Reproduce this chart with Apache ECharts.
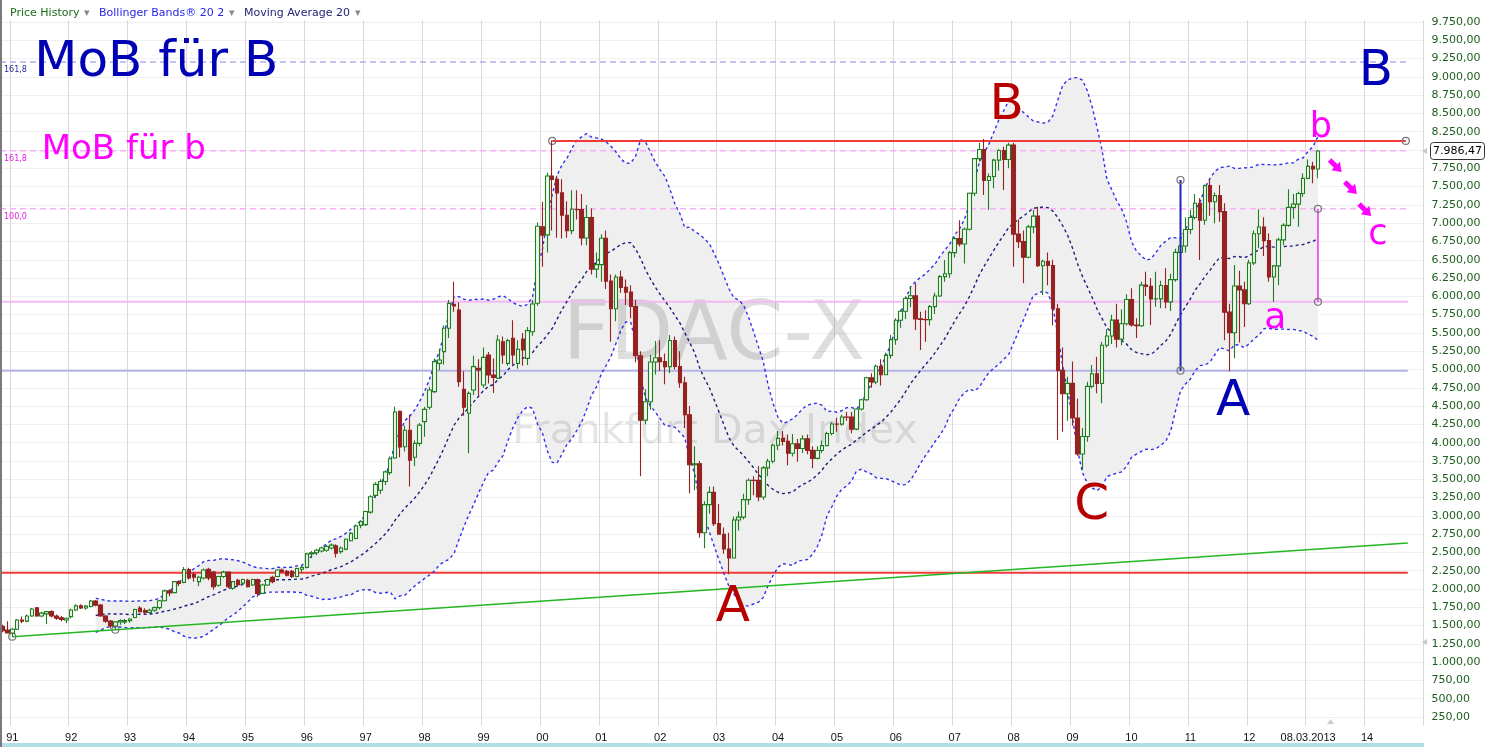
<!DOCTYPE html>
<html><head><meta charset="utf-8">
<script src="https://cdn.jsdelivr.net/npm/echarts@6/dist/echarts.min.js"></script>
<style>html,body{margin:0;padding:0;background:#fff;}#c{width:1491px;height:747px;}</style>
</head><body><div id="c"></div>
<script>
// ---------- DATA ----------
const firstYear = 1990, firstMonth = 11, monthCount = 290;
const open = [1490,1440,1398,1449,1576,1560,1630,1744,1630,1660,1690,1630,1607,1575,1622,1712,1769,1740,1760,1835,1780,1630,1560,1494,1550,1550,1568,1610,1740,1705,1680,1710,1745,1840,1974,1950,2100,2090,2267,2200,2100,2150,2270,2230,2050,2170,2230,2010,2120,2080,2120,2055,2130,1940,2055,2160,2170,2260,2240,2240,2170,2270,2295,2480,2495,2520,2530,2560,2590,2510,2545,2660,2690,2870,2880,3050,3280,3350,3470,3590,3790,4430,3945,4170,3800,3990,4287,4483,4697,5084,5244,5563,5890,5813,4729,4401,4720,5016,4788,5198,4925,4880,5380,5084,5426,5084,5417,5152,5517,5905,6952,6840,7644,7599,7414,7109,6898,7190,7185,6798,7077,6372,6434,6795,6208,5830,6265,6123,6058,5861,5188,4308,4560,5103,5160,5108,5039,5397,5041,4818,4382,3700,3712,2769,3153,3320,2893,2748,2547,2424,2942,2982,3221,3487,3484,3257,3656,3746,3965,4058,4018,3856,3985,3921,4052,3895,3785,3893,3960,4126,4256,4254,4350,4349,4185,4461,4587,4887,4830,5044,4929,5193,5408,5674,5796,5970,6009,5692,5683,5682,5860,6004,6269,6309,6597,6789,6716,6917,7409,7883,8007,7584,7638,7862,7993,7871,8067,6851,6748,6535,6949,7097,6418,6479,6422,5831,4988,4669,4810,4338,3844,4085,4770,4941,4809,5332,5458,5675,5415,5625,5957,5608,5598,6153,6136,5964,5966,6148,5925,6229,6601,6688,6914,7077,7272,7041,7514,7293,7376,7158,5784,5502,6141,6088,5898,6458,6856,6947,6761,6264,6416,6772,6970,7216,7260,7405,7612,7776,7741];
const high = [1510,1560,1470,1590,1625,1650,1740,1755,1690,1700,1710,1650,1630,1610,1730,1790,1790,1780,1850,1850,1795,1645,1575,1560,1585,1590,1600,1730,1765,1735,1730,1760,1850,1990,1995,2110,2120,2300,2290,2230,2180,2280,2290,2250,2180,2250,2240,2110,2140,2140,2140,2140,2140,2070,2140,2180,2270,2280,2260,2260,2290,2310,2495,2520,2550,2580,2600,2620,2610,2580,2690,2780,2880,2940,3070,3280,3460,3500,3620,3810,4490,4440,4230,4380,4030,4270,4490,4760,5150,5280,5600,5950,6200,5920,4975,4700,5189,5140,5300,5240,5150,5470,5450,5420,5674,5400,5500,5580,5950,7010,7294,7690,8130,7650,7600,7300,7450,7450,7400,7250,7200,6600,6850,6900,6300,6300,6350,6230,6150,5950,5250,4730,5200,5390,5400,5220,5470,5450,5250,4900,4500,3950,3750,3200,3400,3400,3160,2840,2770,2990,3060,3300,3510,3540,3680,3680,3780,3990,4160,4160,4110,4120,4050,4100,4110,3950,3950,4030,4150,4280,4340,4380,4420,4420,4470,4600,4900,4950,5070,5140,5230,5470,5700,5820,6000,6140,6178,5790,5810,5880,6050,6290,6497,6620,6810,7040,6940,7420,7890,8100,8151,7680,7880,8010,8046,8100,8100,7050,6900,6980,7180,7225,6500,6600,6500,5900,5300,4900,5110,4600,4200,4834,5062,5175,5380,5550,5750,5900,5820,6030,6110,5700,6200,6337,6250,6337,6214,6383,6310,6650,6880,7080,7180,7400,7340,7530,7600,7420,7522,7271,5900,6430,6350,6200,6500,6900,7189,7080,6861,6428,6800,7000,7463,7400,7431,7680,7870,7841,8000];
const low = [1410,1390,1348,1440,1530,1545,1620,1620,1615,1520,1610,1580,1560,1530,1595,1700,1725,1715,1750,1765,1620,1540,1460,1440,1510,1520,1540,1600,1680,1650,1665,1690,1720,1830,1900,1940,2040,2080,2130,2100,2040,2130,2120,1990,2030,2150,2010,1990,2040,2050,2020,2040,1895,1930,2040,2080,2160,2220,2170,2150,2160,2230,2280,2420,2460,2500,2510,2540,2430,2480,2530,2650,2680,2830,2860,3030,3240,3300,3420,3560,3780,3800,3880,3400,3680,3950,4080,4450,4680,4990,5070,5430,5790,4765,4369,3854,4650,4640,4750,4810,4680,4870,5080,5050,5070,5010,5050,5060,5460,5870,6405,6600,6900,6800,6790,6800,6850,7050,6700,6700,6300,6250,6200,6100,5380,5660,6050,5880,5700,5100,3540,4250,4450,4930,4980,4800,4950,5000,4750,4200,3307,3350,2700,2556,3030,2860,2740,2480,2203,2420,2800,2950,3150,3280,3200,3220,3540,3720,3900,3960,3690,3810,3740,3860,3840,3650,3770,3860,3950,4100,4150,4230,4300,4130,4170,4440,4570,4750,4800,4780,4920,5150,5340,5570,5690,5850,5540,5267,5380,5600,5760,5990,6200,6250,6530,6680,6450,6900,7370,7840,7385,7180,7476,7720,7454,7750,6406,6660,6180,6520,6861,6400,6018,6150,5600,4037,4150,4300,4230,3820,3626,4013,4743,4674,4538,5300,5350,5300,5330,5600,5586,5430,5580,6005,5608,5859,5836,5836,5800,6200,6530,6600,6850,7050,6497,6980,7100,7000,7021,5400,4975,5153,5370,5580,5880,6430,6656,6550,6201,5927,6150,6700,6952,7060,6952,7360,7600,7545,7613];
const close = [1430,1398,1449,1576,1560,1630,1726,1630,1670,1690,1630,1600,1585,1600,1712,1769,1740,1765,1835,1780,1630,1560,1494,1550,1570,1568,1590,1720,1690,1680,1710,1745,1840,1974,1945,2100,2075,2267,2150,2160,2160,2260,2150,2030,2170,2230,2030,2100,2060,2130,2030,2130,1940,2055,2130,2100,2260,2240,2190,2170,2280,2295,2480,2495,2530,2560,2580,2600,2490,2560,2680,2760,2860,2920,3060,3260,3430,3470,3600,3780,4420,3940,4170,3760,3990,4240,4455,4720,5107,5130,5563,5904,5868,4834,4483,4674,5039,4993,5166,4925,4890,5403,5198,5394,5198,5276,5266,5531,5895,6958,6835,7644,7599,7414,7109,6898,7190,7185,6798,7077,6372,6434,6795,6208,5830,6265,6123,6058,5861,5188,4308,4560,5103,5160,5108,5039,5397,5041,4818,4382,3700,3712,2769,3153,3320,2893,2748,2547,2424,2942,2982,3221,3487,3484,3257,3656,3746,3965,4058,4018,3856,3985,3921,4052,3895,3785,3893,3960,4126,4256,4254,4350,4349,4185,4461,4587,4887,4830,5044,4929,5193,5408,5674,5796,5970,6009,5692,5683,5682,5860,6004,6269,6309,6597,6789,6716,6917,7409,7883,8007,7584,7638,7862,7993,7871,8067,6851,6748,6535,6949,7097,6418,6479,6422,5831,4988,4669,4810,4338,3844,4085,4770,4941,4809,5332,5458,5675,5415,5625,5957,5608,5598,6153,6136,5964,5966,6148,5925,6229,6601,6688,6914,7077,7272,7041,7514,7293,7376,7158,5784,5502,6141,6088,5898,6458,6856,6947,6761,6264,6416,6772,6970,7216,7260,7405,7612,7776,7741,7986.47];
const xTickYears  = [1991,1992,1993,1994,1995,1996,1997,1998,1999,2000,2001,2002,2003,2004,2005,2006,2007,2008,2009,2010,2011,2012,2013,2014];
const xTickLabels = ['91','92','93','94','95','96','97','98','99','00','01','02','03','04','05','06','07','08','09','10','11','12','08.03.2013','14'];
const bbPeriod = 20, bbDev = 2;
// drawn lines, points in (month index, value)
const greenTrend = [[2,1348],[23,1443],[286.3,2629]];
const redTop     = [[112,8125],[285.9,8125]];
const redBottom  = [[-0.5,2223],[286.3,2223]];
const blueLevel  = [[-0.5,4984],[286.3,4984]];
const pinkLevel  = [[-0.5,5925],[286.3,5925]];
const blueFib    = [[-0.5,9203],[286.3,9203]];
const pinkFib162 = [[-0.5,7990],[286.3,7990]];
const pinkFib100 = [[-0.5,7196],[286.3,7196]];
const blueSwing  = [[240,7590],[240,4984]];
const pinkSwing  = [[268,7196],[268,5925]];
const fibLabels  = ['161,8','161,8','100,0'];
const noteTexts = ['MoB für B','MoB für b','B','A','C','A','B','a','b','c'];
const noteX     = [31.34,24.72,204.6,148.8,221.9,250.7,279.8,259.3,268.6,280.2];
const noteY     = [9183,8000,8602,1740,3130,4556,9067,5690,8309,6838];
const arrowX = [271.6,274.7,277.6];
const arrowY = [7782,7481,7180];
const lastPrice = 7986.47;
const sideMarkers = [7986.47,1275];

// ---------- BUILD ----------
const cats = [];
for (let i = 0; i < monthCount; i++) {
  const t = firstMonth - 1 + i;
  cats.push((firstYear + Math.floor(t / 12)) + '-' + String(t % 12 + 1).padStart(2, '0'));
}
const tickMap = {};
xTickYears.forEach((y, i) => tickMap[y + '-01'] = xTickLabels[i]);
const candle = open.map((o, i) => [o, close[i], low[i], high[i]]);
const bbMid = [], bbUp = [], bbLo = [], bbDiff = [];
for (let i = 0; i < close.length; i++) {
  if (i < bbPeriod - 1) { bbMid.push('-'); bbUp.push('-'); bbLo.push('-'); bbDiff.push('-'); continue; }
  let s = 0; for (let j = i - bbPeriod + 1; j <= i; j++) s += close[j];
  const m = s / bbPeriod;
  let q = 0; for (let j = i - bbPeriod + 1; j <= i; j++) q += (close[j] - m) * (close[j] - m);
  const sd = Math.sqrt(q / bbPeriod);
  bbMid.push(m); bbUp.push(m + bbDev * sd); bbLo.push(m - bbDev * sd); bbDiff.push(2 * bbDev * sd);
}
function de(v, d) {
  const s = Number(v).toFixed(d); const p = s.split('.');
  const i = p[0].replace(/\B(?=(\d{3})+(?!\d))/g, '.');
  return p[1] ? i + ',' + p[1] : i;
}
const isJan = (idx, v) => v.endsWith('-01');

function lineSeries(pts, color, width, type, circles, z) {
  return {
    type: 'line', xAxisIndex: 2, yAxisIndex: 0, z: z || 4, silent: true, animation: false,
    data: pts.map((p, k) => circles && circles.indexOf(k) >= 0
      ? {value: p, symbol: 'circle', symbolSize: 7, itemStyle: {color: 'rgba(255,255,255,0)', borderColor: '#777', borderWidth: 1.2}}
      : {value: p, symbol: 'none'}),
    showSymbol: true, lineStyle: {color: color, width: width, type: type || 'solid'},
    itemStyle: {color: color}
  };
}

const noteColors = ['#0000b4', '#ff00ff', '#b80000', '#b80000', '#b80000', '#0000b4', '#0000b4', '#ff00ff', '#ff00ff', '#ff00ff'];
const noteSizes = [50, 34, 50, 50, 50, 50, 50, 36, 35, 35];

const series = [
  {type: 'line', name: 'bbBase', data: bbLo, stack: 'bb', symbol: 'none', lineStyle: {opacity: 0}, z: 1, silent: true},
  {type: 'line', name: 'bbFill', data: bbDiff, stack: 'bb', symbol: 'none', lineStyle: {opacity: 0}, areaStyle: {color: '#efefef', opacity: 1}, z: 1, silent: true},
  lineSeries(redBottom, '#f03a3a', 2, 'solid', [], 3),
  lineSeries(blueLevel, '#b4b4e8', 2, 'solid', [], 3),
  lineSeries(pinkLevel, '#f4b8f4', 2, 'solid', [], 3),
  lineSeries(blueFib, '#b0b0ee', 1.5, [6, 4], [], 3),
  lineSeries(pinkFib162, '#f8b0f8', 1.5, [6, 4], [], 3),
  lineSeries(pinkFib100, '#f8b0f8', 1.5, [6, 4], [], 3),
  {type: 'line', name: 'bbUp', data: bbUp, symbol: 'none', lineStyle: {color: '#3030ee', width: 1.4, type: [3, 3]}, z: 5, silent: true},
  {type: 'line', name: 'bbLo', data: bbLo, symbol: 'none', lineStyle: {color: '#3030ee', width: 1.4, type: [3, 3]}, z: 5, silent: true},
  {type: 'line', name: 'ma', data: bbMid, symbol: 'none', lineStyle: {color: '#1c1c80', width: 1.4, type: [3, 3]}, z: 5, silent: true},
  lineSeries(greenTrend, '#22b822', 1.6, 'solid', [0, 1], 6),
  lineSeries(redTop, '#f03a3a', 2, 'solid', [0, 1], 6),
  {
    type: 'candlestick', data: candle, barWidth: 4, z: 7, silent: true,
    itemStyle: {color: '#f2f8f2', color0: '#962222', borderColor: '#1f7f1f', borderColor0: '#962222', borderWidth: 1.1}
  },
  lineSeries(blueSwing, '#2323b8', 2, 'solid', [0, 1], 8),
  lineSeries(pinkSwing, '#ee30ee', 1.5, 'solid', [0, 1], 8),
  {
    type: 'scatter', xAxisIndex: 2, symbolSize: 0, z: 9, silent: true, itemStyle: {opacity: 1},
    data: [blueFib[0], pinkFib162[0], pinkFib100[0]].map((p, k) => ({
      value: p, label: {show: true, position: 'right', distance: 0, offset: [4, 8], formatter: fibLabels[k], opacity: 1,
        color: k === 0 ? '#2a2a9a' : '#e020e0', fontSize: 8, fontFamily: 'DejaVu Sans'}
    }))
  },
  {
    type: 'scatter', xAxisIndex: 2, symbolSize: 0, z: 10, silent: true, itemStyle: {opacity: 1},
    data: noteTexts.map((t, k) => ({value: [noteX[k], noteY[k]],
      label: {show: true, position: 'inside', formatter: t, opacity: 1, color: noteColors[k], fontSize: noteSizes[k], fontFamily: 'DejaVu Sans'}}))
  },
  {
    type: 'scatter', xAxisIndex: 2, z: 10, silent: true,
    symbol: 'path://M3.5,0 L8.5,0 L8.5,8 L12,8 L6,16 L0,8 L3.5,8 Z', symbolSize: [12, 17], symbolRotate: 45,
    itemStyle: {color: '#ff00ff', opacity: 1},
    data: arrowX.map((x, k) => [x, arrowY[k]])
  }
];

const chart = echarts.init(document.getElementById('c'), null, {renderer: 'canvas'});
chart.setOption({
  animation: false,
  backgroundColor: '#fff',
  grid: {left: 0, right: 67.5, top: 3.7, bottom: 11.7, containLabel: false},
  xAxis: [
    {type: 'category', data: cats, boundaryGap: true, z: 20,
      axisLine: {show: false}, axisTick: {show: false}, splitLine: {show: false},
      axisLabel: {interval: isJan, formatter: v => tickMap[v] || '', color: '#111', fontSize: 11, fontFamily: 'Liberation Sans', margin: -3}},
    {type: 'category', data: cats, boundaryGap: true, position: 'top', z: 0,
      axisLine: {show: false}, axisTick: {show: false}, axisLabel: {show: false},
      splitLine: {show: true, interval: isJan, lineStyle: {color: '#d9d9d9', width: 1}}},
    {type: 'value', min: -0.5, max: monthCount - 0.5, show: false}
  ],
  yAxis: [{type: 'value', position: 'right', min: 0, max: 10000, interval: 250, z: 0,
    axisLine: {show: false}, axisTick: {show: false},
    splitLine: {lineStyle: {color: '#efefef', width: 1}},
    axisLabel: {formatter: v => (v <= 0 || v >= 10000) ? '' : de(v, 2), color: '#1d5e1d', fontSize: 11, fontFamily: 'DejaVu Sans', margin: 8}}],
  series: series
});

// static frame pieces and price markers
const priceY = chart.convertToPixel({yAxisIndex: 0}, lastPrice);
const tri = sideMarkers.map(v => {
  const y = chart.convertToPixel({yAxisIndex: 0}, v);
  return {type: 'polygon', z: 30, shape: {points: [[1422, y], [1427, y - 3], [1427, y + 3]]}, style: {fill: '#c8c8c8'}};
});
chart.setOption({
  graphic: [
    {type: 'rect', z: 15, shape: {x: 0, y: 726, width: 1424, height: 21}, style: {fill: '#fff'}},
    {type: 'rect', z: 16, shape: {x: 0, y: 743, width: 1424, height: 4}, style: {fill: '#b0e0e6'}},
    {type: 'rect', z: 15, shape: {x: 0, y: 0, width: 1424, height: 20}, style: {fill: '#fff'}},
    {type: 'rect', z: 31, shape: {x: 0, y: 0, width: 2, height: 747}, style: {fill: '#7a7a7a'}},
    {type: 'rect', z: 33, shape: {x: 1430.5, y: Math.round(priceY) - 8.5, width: 54, height: 17, r: 3}, style: {fill: '#fff', stroke: '#333', lineWidth: 1}},
    {type: 'text', z: 34, style: {x: 1457.5, y: priceY, text: de(lastPrice, 2), fill: '#000', font: '11px "DejaVu Sans"', textAlign: 'center', textVerticalAlign: 'middle'}},
    {type: 'polygon', z: 30, shape: {points: [[1327, 724], [1330.5, 719], [1334, 724]]}, style: {fill: '#cccccc'}},
    {type: 'text', z: 32, style: {x: 10, y: 13, text: 'Price History', fill: '#1b6b1b', font: '11px "DejaVu Sans"', textVerticalAlign: 'middle'}},
    {type: 'text', z: 32, style: {x: 84, y: 13, text: '▾', fill: '#888', font: '11px "DejaVu Sans"', textVerticalAlign: 'middle'}},
    {type: 'text', z: 32, style: {x: 99, y: 13, text: 'Bollinger Bands® 20 2', fill: '#2626e8', font: '11px "DejaVu Sans"', textVerticalAlign: 'middle'}},
    {type: 'text', z: 32, style: {x: 229, y: 13, text: '▾', fill: '#888', font: '11px "DejaVu Sans"', textVerticalAlign: 'middle'}},
    {type: 'text', z: 32, style: {x: 244, y: 13, text: 'Moving Average 20', fill: '#22227a', font: '11px "DejaVu Sans"', textVerticalAlign: 'middle'}},
    {type: 'text', z: 32, style: {x: 355, y: 13, text: '▾', fill: '#888', font: '11px "DejaVu Sans"', textVerticalAlign: 'middle'}},
    {type: 'text', z: 2, style: {x: 714, y: 338, text: 'FDAC-X', fill: 'rgba(0,0,0,0.13)', font: '82px "DejaVu Sans"', textAlign: 'center', textVerticalAlign: 'middle'}},
    {type: 'text', z: 2, style: {x: 715, y: 432, text: 'Frankfurt Dax Index', fill: 'rgba(0,0,0,0.10)', font: '41px "DejaVu Sans"', textAlign: 'center', textVerticalAlign: 'middle'}}
  ].concat(tri)
});
</script></body></html>
